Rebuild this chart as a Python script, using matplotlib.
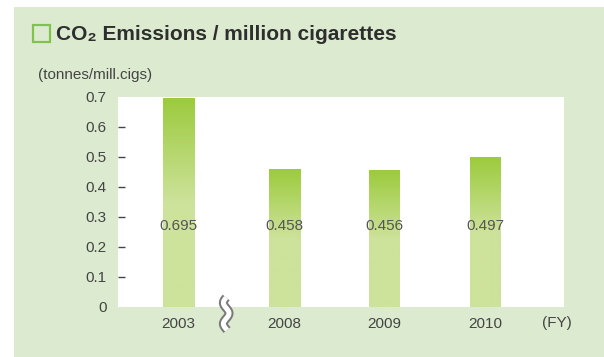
import numpy as np
import matplotlib
matplotlib.use("Agg")
import matplotlib.pyplot as plt
from matplotlib.patches import Rectangle
from matplotlib.colors import to_rgb
import matplotlib.transforms as mtransforms

# ---- data
years = ["2003", "2008", "2009", "2010"]
values = [0.695, 0.458, 0.456, 0.497]
value_labels = ["0.695", "0.458", "0.456", "0.497"]
yticks = [0, 0.1, 0.2, 0.3, 0.4, 0.5, 0.6, 0.7]
ytick_labels = ["0", "0.1", "0.2", "0.3", "0.4", "0.5", "0.6", "0.7"]

# ---- layout (x in units of 100 px, gap after 2003 for the axis break)
x_pos = [0.61, 1.67, 2.665, 3.675]
bar_w = 0.31
break_x = 1.085

W, H = 604, 357
PANEL = "#dcebd0"
BAR_TOP = "#9ccb3d"
BAR_LIGHT = "#cde29b"
TXT = "#444444"

plt.rcParams["font.family"] = ["Liberation Sans", "DejaVu Sans"]

fig = plt.figure(figsize=(W / 100, H / 100), dpi=100, facecolor="white")

# green panel behind everything
fig.add_artist(Rectangle((14 / W, 0), 1 - 14 / W, 1 - 6.5 / H,
                         transform=fig.transFigure, facecolor=PANEL,
                         edgecolor="none", zorder=0))

ax = fig.add_axes([117.7 / W, 1 - 307 / H, 446.3 / W, 210 / H])
ax.set_facecolor("white")
for s in ax.spines.values():
    s.set_visible(False)

# gradient bars: dark at top, fading to light over the top part
top_rgb = np.array(to_rgb(BAR_TOP))
low_rgb = np.array(to_rgb(BAR_LIGHT))
n = 200
t = np.linspace(0, 1, n)
frac = np.clip((t - 0.5) / 0.5, 0, 1)[:, None]
grad = low_rgb * (1 - frac) + top_rgb * frac
grad = np.repeat(grad[:, None, :], 2, axis=1)

for xp, v, lab in zip(x_pos, values, value_labels):
    ax.imshow(grad, extent=[xp - bar_w / 2, xp + bar_w / 2, 0, v],
              origin="lower", aspect="auto", interpolation="bilinear", zorder=2)
    ax.text(xp, 0.269, lab, ha="center", va="center", fontsize=11,
            color="#555555", zorder=3)

ax.set_xlim(0, 4.463)
ax.set_ylim(0, 0.7)

ax.set_yticks(yticks)
ax.set_yticklabels(ytick_labels)
ax.set_xticks(x_pos)
ax.set_xticklabels(years)
ax.tick_params(axis="y", direction="in", length=5, width=1, color=TXT,
               labelsize=11, labelcolor=TXT, pad=8)
ax.tick_params(axis="x", length=0, labelsize=11, labelcolor=TXT, pad=7)
yt = ax.yaxis.get_major_ticks()
yt[0].tick1line.set_visible(False)
yt[-1].tick1line.set_visible(False)

# axis break mark (decoration)
trans = mtransforms.blended_transform_factory(ax.transData, ax.transAxes)
yy = np.linspace(0.045, -0.11, 60)
xx = break_x + 0.028 * np.sin(2 * np.pi * (yy - 0.045) / 0.1)
ax.plot(xx, yy, color="#7a7a7a", lw=6.5, transform=trans, clip_on=False,
        solid_capstyle="butt", zorder=5)
ax.plot(xx, yy, color="white", lw=3.6, transform=trans, clip_on=False,
        solid_capstyle="butt", zorder=6)

# texts outside the axes
fig.text(557 / W, 1 - 323 / H, "(FY)", ha="center", va="center",
         fontsize=11, color=TXT)
fig.text(38 / W, 1 - 75 / H, "(tonnes/mill.cigs)", ha="left", va="center",
         fontsize=11, color=TXT)

fig.add_artist(Rectangle((33 / W, 1 - 42 / H), 17 / W, 17 / H,
                         transform=fig.transFigure, facecolor="none",
                         edgecolor="#80c24c", lw=1.6, zorder=3))
fig.text(56 / W, 1 - 34 / H, "CO₂ Emissions / million cigarettes",
         ha="left", va="center", fontsize=15, fontweight="bold",
         color="#2e2e2e")

fig.savefig("out.png", dpi=100, facecolor="white")
